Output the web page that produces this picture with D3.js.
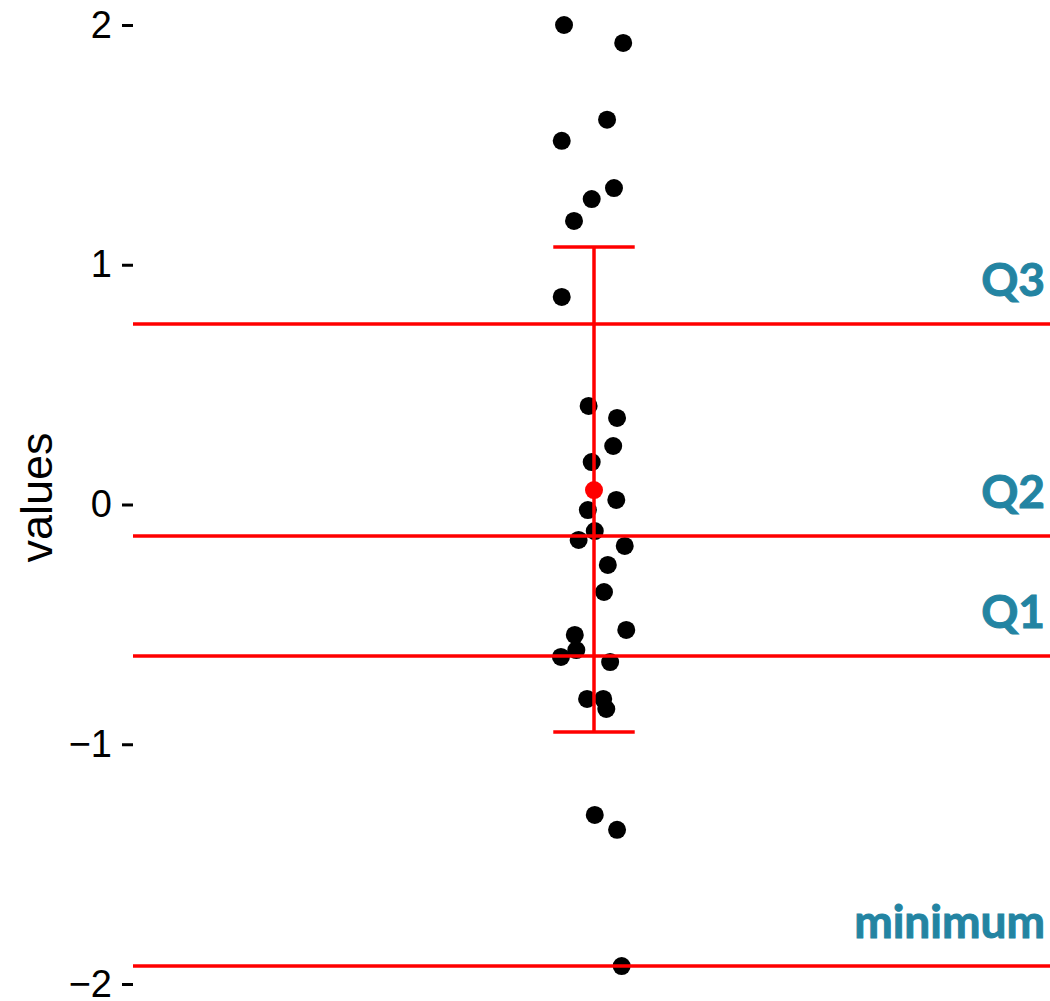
<!doctype html>
<html lang="en">
  <head>
    <meta charset="utf-8" />
    <title>Quartiles strip chart</title>
    <style>
      body { margin: 0; background: #fff; }
      svg { display: block; }
    </style>
  </head>
  <body>
    <svg id="chart" width="1050" height="1001"></svg>
    <script src="https://cdn.jsdelivr.net/npm/d3@7"></script>
    <script>

      // observed values (y) and horizontal jitter (x offset from group centre)
      var values = [2.00, 1.925, 1.605, 1.517, 1.32, 1.274, 1.183, 0.866, 0.411, 0.361,
                    0.244, 0.177, 0.019, -0.023, -0.111, -0.148, -0.173, -0.252, -0.365, -0.523,
                    -0.544, -0.607, -0.636, -0.657, -0.811, -0.811, -0.853, -1.295, -1.357, -1.925];
      var jitter = [-0.039, 0.038, 0.017, -0.042, 0.026, -0.003, -0.026, -0.042, -0.007, 0.030,
                    0.025, -0.003, 0.029, -0.008, 0.001, -0.020, 0.040, 0.018, 0.013, 0.042,
                    -0.025, -0.023, -0.043, 0.021, -0.009, 0.012, 0.016, 0.001, 0.030, 0.036];

      // reference lines
      var refLabels = ["Q3", "Q2", "Q1", "minimum"];
      var refValues = [0.753, -0.131, -0.632, -1.925];

      // mean with error bar
      var meanValue = 0.06;
      var barLow = -0.949;
      var barHigh = 1.074;
      var capHalf = 0.053;

      var yTicks = [-2, -1, 0, 1, 2];

      var svg = d3.select("#chart");
      var plotLeft = 133, plotRight = 1055, plotTop = 25, plotBottom = 984;

      var x = d3.scaleLinear().domain([0.4, 1.6]).range([plotLeft, plotRight]);
      var y = d3.scaleLinear().domain([-2, 2]).range([plotBottom, plotTop]);

      // y axis: ticks only, no domain line
      var yAxis = svg.append("g")
          .attr("transform", "translate(" + plotLeft + ",0)")
          .call(d3.axisLeft(y).tickValues(yTicks).tickFormat(d3.format("d"))
              .tickSize(11).tickPadding(10));
      yAxis.select(".domain").remove();
      yAxis.selectAll(".tick line").attr("stroke", "#000").attr("stroke-width", 3);
      yAxis.selectAll(".tick text")
          .attr("fill", "#000")
          .style("font-family", "'Liberation Sans', Arial, sans-serif")
          .style("font-size", "38px");

      svg.append("text")
          .attr("transform", "translate(52," + ((plotTop + plotBottom) / 2 - 7) + ") rotate(-90)")
          .attr("text-anchor", "middle")
          .style("font-family", "'Liberation Sans', Arial, sans-serif")
          .style("font-size", "45px")
          .text("values");

      // points
      svg.append("g").selectAll("circle")
          .data(values)
          .enter().append("circle")
          .attr("cx", function (d, i) { return x(1 + jitter[i]); })
          .attr("cy", function (d) { return y(d); })
          .attr("r", 9)
          .attr("fill", "#000");

      // horizontal reference lines + labels
      refValues.forEach(function (v, i) {
          svg.append("line")
              .attr("x1", plotLeft).attr("x2", plotRight)
              .attr("y1", y(v)).attr("y2", y(v))
              .attr("stroke", "#ff0000")
              .attr("stroke-width", 3.5);
          svg.append("text")
              .attr("x", 1045)
              .attr("y", y(v) - 28)
              .attr("text-anchor", "end")
              .attr("fill", "#2384a2")
              .attr("stroke", "#2384a2")
              .attr("stroke-width", 1)
              .style("font-family", "Lato, 'Open Sans', sans-serif")
              .style("font-weight", 700)
              .style("font-size", "46px")
              .text(refLabels[i]);
      });

      // error bar
      var eb = svg.append("g")
          .attr("stroke", "#ff0000")
          .attr("stroke-width", 3.5);
      eb.append("line")
          .attr("x1", x(1)).attr("x2", x(1))
          .attr("y1", y(barHigh)).attr("y2", y(barLow));
      eb.append("line")
          .attr("x1", x(1 - capHalf)).attr("x2", x(1 + capHalf))
          .attr("y1", y(barHigh)).attr("y2", y(barHigh));
      eb.append("line")
          .attr("x1", x(1 - capHalf)).attr("x2", x(1 + capHalf))
          .attr("y1", y(barLow)).attr("y2", y(barLow));

      svg.append("circle")
          .attr("cx", x(1))
          .attr("cy", y(meanValue))
          .attr("r", 9)
          .attr("fill", "#ff0000");

    </script>
  </body>
</html>
